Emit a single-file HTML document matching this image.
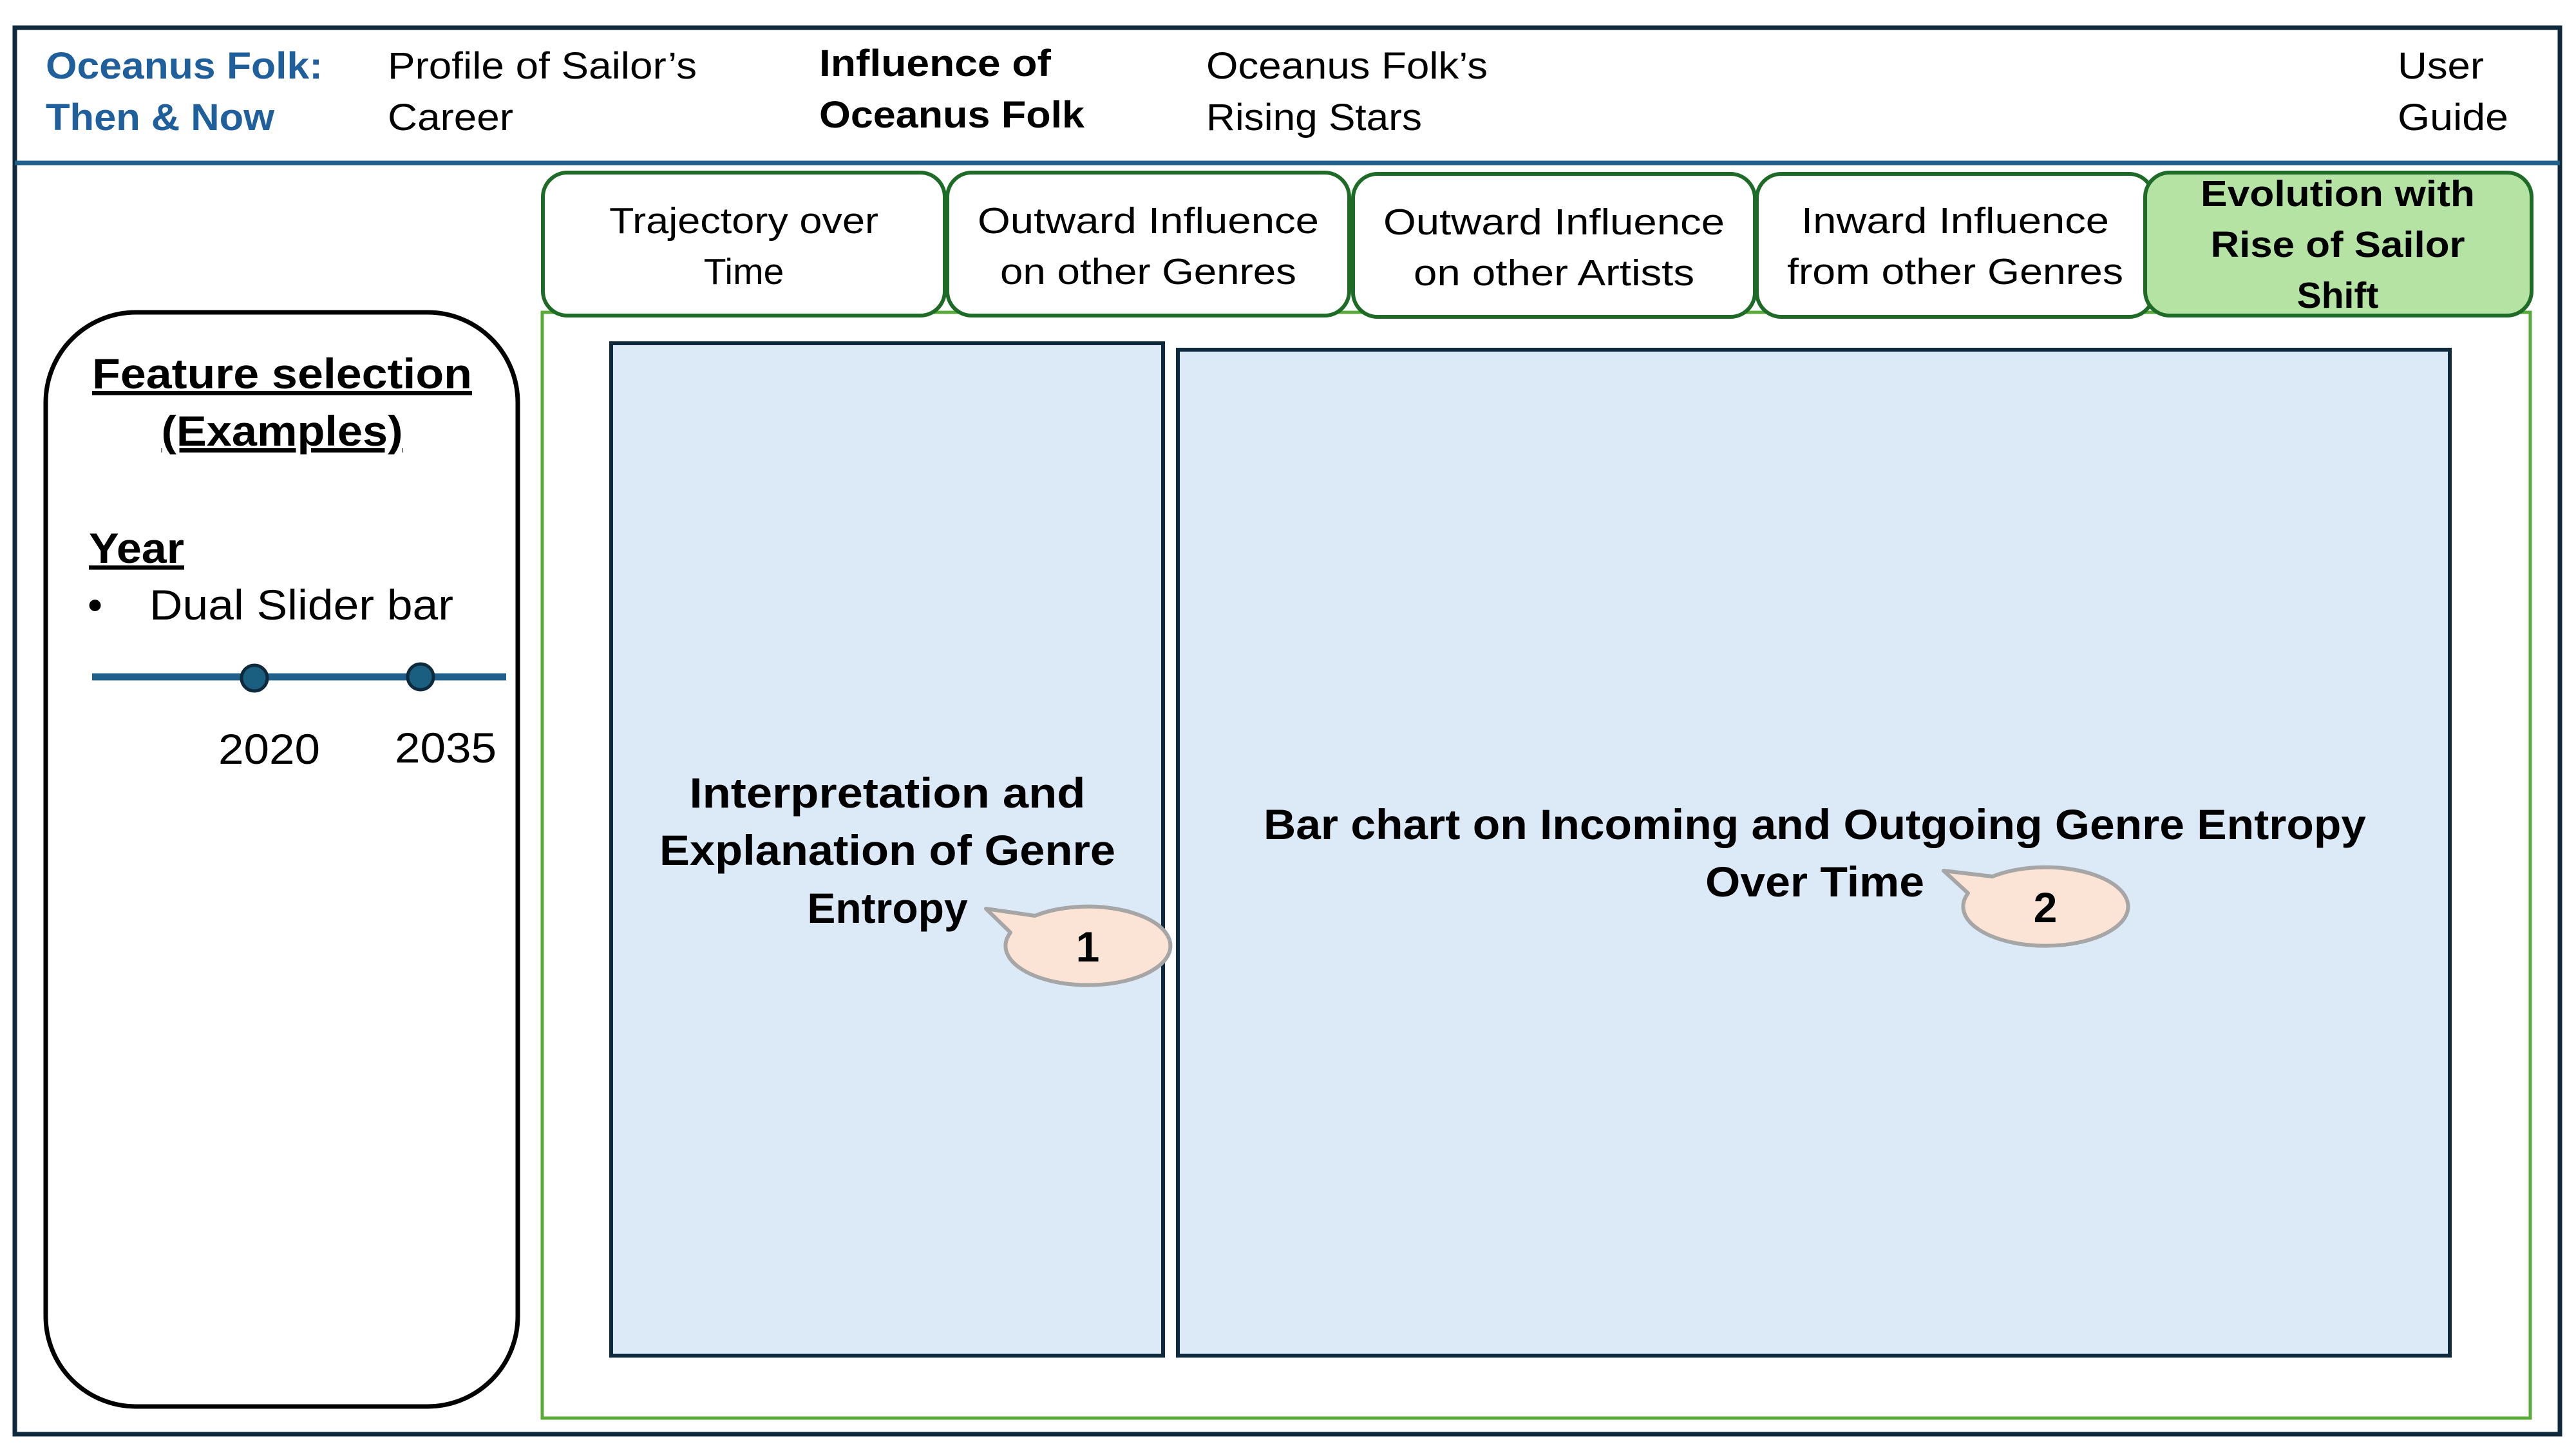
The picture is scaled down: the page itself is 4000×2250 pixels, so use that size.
<!DOCTYPE html>
<html><head><meta charset="utf-8"><style>
html,body{margin:0;padding:0;background:#fff;}
svg{display:block;}
text{font-family:"Liberation Sans",sans-serif;}
</style></head><body>
<svg width="4000" height="2250" viewBox="0 0 4000 2250" xmlns="http://www.w3.org/2000/svg">
<rect x="0" y="0" width="4000" height="2250" fill="#fff"/>
<rect x="23" y="43" width="3952" height="2184" fill="#fff" stroke="#0f2a3c" stroke-width="7"/>
<line x1="23" y1="253" x2="3975" y2="253" stroke="#1f5f8b" stroke-width="7"/>
<g font-size="58">
<text x="71" y="122" fill="#1f5f9b" font-weight="bold" textLength="430" lengthAdjust="spacingAndGlyphs">Oceanus Folk:</text>
<text x="71" y="202" fill="#1f5f9b" font-weight="bold" textLength="355" lengthAdjust="spacingAndGlyphs">Then &amp; Now</text>
<text x="602" y="122" fill="#000" textLength="480" lengthAdjust="spacingAndGlyphs">Profile of Sailor’s</text>
<text x="602" y="202" fill="#000" textLength="195" lengthAdjust="spacingAndGlyphs">Career</text>
<text x="1272" y="118" fill="#000" font-weight="bold" textLength="360" lengthAdjust="spacingAndGlyphs">Influence of</text>
<text x="1272" y="198" fill="#000" font-weight="bold" textLength="412" lengthAdjust="spacingAndGlyphs">Oceanus Folk</text>
<text x="1873" y="122" fill="#000" textLength="437" lengthAdjust="spacingAndGlyphs">Oceanus Folk’s</text>
<text x="1873" y="202" fill="#000" textLength="335" lengthAdjust="spacingAndGlyphs">Rising Stars</text>
<text x="3723" y="122" fill="#000" textLength="134" lengthAdjust="spacingAndGlyphs">User</text>
<text x="3723" y="202" fill="#000" textLength="172" lengthAdjust="spacingAndGlyphs">Guide</text>
</g>
<rect x="842" y="485" width="3087" height="1717" fill="#fff" stroke="#5aab3a" stroke-width="5"/>
<g stroke="#1e6b28" stroke-width="6">
<rect x="843" y="268" width="624" height="222" rx="38" fill="#fff"/>
<rect x="1471" y="268" width="624" height="222" rx="38" fill="#fff"/>
<rect x="2101" y="270" width="624" height="222" rx="38" fill="#fff"/>
<rect x="2728" y="270" width="616" height="222" rx="38" fill="#fff"/>
<rect x="3331" y="268" width="600" height="222" rx="38" fill="#b5e3a3"/>
</g>
<g font-size="57" text-anchor="middle" fill="#000">
<text x="1155" y="362" textLength="418" lengthAdjust="spacingAndGlyphs">Trajectory over</text>
<text x="1155" y="441">Time</text>
<text x="1783" y="362" textLength="530" lengthAdjust="spacingAndGlyphs">Outward Influence</text>
<text x="1783" y="441" textLength="460" lengthAdjust="spacingAndGlyphs">on other Genres</text>
<text x="2413" y="364" textLength="530" lengthAdjust="spacingAndGlyphs">Outward Influence</text>
<text x="2413" y="443" textLength="436" lengthAdjust="spacingAndGlyphs">on other Artists</text>
<text x="3036" y="362" textLength="478" lengthAdjust="spacingAndGlyphs">Inward Influence</text>
<text x="3036" y="441" textLength="522" lengthAdjust="spacingAndGlyphs">from other Genres</text>
<g font-weight="bold">
<text x="3630" y="320" textLength="426" lengthAdjust="spacingAndGlyphs">Evolution with</text>
<text x="3630" y="399" textLength="395" lengthAdjust="spacingAndGlyphs">Rise of Sailor</text>
<text x="3630" y="478">Shift</text>
</g>
</g>
<rect x="71" y="485" width="733" height="1699" rx="140" fill="#fff" stroke="#000" stroke-width="7"/>
<g font-size="66" fill="#000">
<text x="438" y="603" text-anchor="middle" font-weight="bold" text-decoration="underline" textLength="590" lengthAdjust="spacingAndGlyphs">Feature selection</text>
<text x="438" y="692" text-anchor="middle" font-weight="bold" text-decoration="underline" textLength="375" lengthAdjust="spacingAndGlyphs">(Examples)</text>
<text x="138" y="874" font-weight="bold" text-decoration="underline" textLength="148" lengthAdjust="spacingAndGlyphs">Year</text>
<text x="136" y="962">•</text>
<text x="232" y="962" textLength="472" lengthAdjust="spacingAndGlyphs">Dual Slider bar</text>
<text x="418" y="1186" text-anchor="middle" textLength="158" lengthAdjust="spacingAndGlyphs">2020</text>
<text x="692" y="1184" text-anchor="middle" textLength="158" lengthAdjust="spacingAndGlyphs">2035</text>
</g>
<line x1="143" y1="1051" x2="786" y2="1051" stroke="#1f5f8b" stroke-width="11"/>
<circle cx="395" cy="1053" r="20" fill="#1a5e80" stroke="#0f2a3c" stroke-width="5"/>
<circle cx="653" cy="1051" r="20" fill="#1a5e80" stroke="#0f2a3c" stroke-width="5"/>
<rect x="949" y="533" width="857" height="1572" fill="#dce9f6" stroke="#0f2a3c" stroke-width="6"/>
<rect x="1829" y="543" width="1975" height="1562" fill="#dce9f6" stroke="#0f2a3c" stroke-width="6"/>
<g font-size="66" font-weight="bold" text-anchor="middle" fill="#000">
<text x="1378" y="1254" textLength="615" lengthAdjust="spacingAndGlyphs">Interpretation and</text>
<text x="1378" y="1343" textLength="708" lengthAdjust="spacingAndGlyphs">Explanation of Genre</text>
<text x="1378" y="1433">Entropy</text>
<text x="2818" y="1303" textLength="1712" lengthAdjust="spacingAndGlyphs">Bar chart on Incoming and Outgoing Genre Entropy</text>
<text x="2818" y="1392" textLength="340" lengthAdjust="spacingAndGlyphs">Over Time</text>
</g>
<g fill="#fbe3d5" stroke="#a6a6a6" stroke-width="6" stroke-linejoin="round">
<path d="M1569,1448 L1531,1411 L1607,1422 A128,61 0 1,1 1569,1448 Z"/>
<path d="M3056,1387 L3018,1352 L3094,1361 A128,61 0 1,1 3056,1387 Z"/>
</g>
<g font-size="66" font-weight="bold" text-anchor="middle" fill="#000">
<text x="1689" y="1493">1</text>
<text x="3176" y="1432">2</text>
</g>
</svg>
</body></html>
